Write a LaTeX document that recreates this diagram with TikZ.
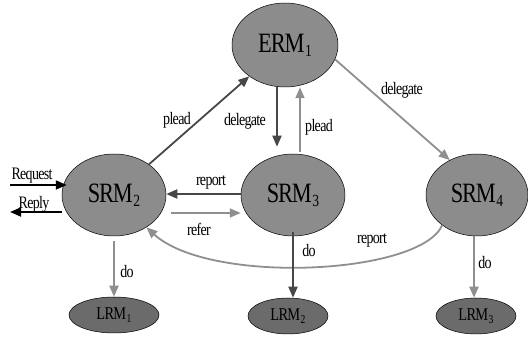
\documentclass[tikz,border=0pt]{standalone}
\usepackage{fontspec}
\setmainfont{Liberation Serif}[FakeStretch=0.8,LetterSpace=-4]
\usetikzlibrary{arrows.meta,shapes.geometric}
\definecolor{nodefill}{HTML}{8C8C8C}
\definecolor{leaffill}{HTML}{6B6B6B}
\definecolor{darkarrow}{HTML}{474747}
\definecolor{lightarrow}{HTML}{8F8F8F}
\newcommand{\bigsub}[1]{\kern0.5pt\raisebox{-4pt}{\fontsize{17}{17}\selectfont#1}}
\newcommand{\smallsub}[1]{\kern0.5pt\raisebox{-2.5pt}{\fontsize{12}{12}\selectfont#1}}
\begin{document}
\begin{tikzpicture}[x=1pt,y=-1pt,
  manager/.style={ellipse,draw=black,line width=0.5pt,fill=nodefill,
    inner sep=0pt,font=\fontsize{28}{28}\selectfont},
  leaf/.style={ellipse,draw=black,line width=0.5pt,fill=leaffill,
    inner sep=0pt,font=\fontsize{18}{18}\selectfont},
  lbl/.style={inner sep=0pt,font=\fontsize{17.5}{17.5}\selectfont},
  flow/.style={line width=1.8pt,-{Triangle[length=11pt,width=9pt]}},
  darkflow/.style={flow,draw=darkarrow,color=darkarrow},
  lightflow/.style={flow,draw=lightarrow,color=lightarrow},
  ioflow/.style={flow,draw=black,color=black}]
\useasboundingbox (0,0) rectangle (528,339);

% resource managers
\node[manager,minimum width=106pt,minimum height=84pt] (erm1) at (285,45) {ERM\bigsub{1}};
\node[manager,minimum width=104pt,minimum height=82pt] (srm2) at (114,195) {SRM\bigsub{2}};
\node[manager,minimum width=104pt,minimum height=82pt] (srm3) at (293,195) {SRM\bigsub{3}};
\node[manager,minimum width=102pt,minimum height=82pt] (srm4) at (477,195) {SRM\bigsub{4}};
\node[leaf,minimum width=90pt,minimum height=36pt] (lrm1) at (114,315) {LRM\smallsub{1}};
\node[leaf,minimum width=80pt,minimum height=36pt] (lrm2) at (288,316) {LRM\smallsub{2}};
\node[leaf,minimum width=80pt,minimum height=36pt] (lrm3) at (476,316) {LRM\smallsub{3}};

% external request / reply
\coordinate (reqin) at (10,185);
\coordinate (repout) at (10,212);
\draw[ioflow] (reqin) -- ([xshift=5pt]reqin -| srm2.west);
\draw[ioflow] (repout -| srm2.west) -- (repout);
\node[lbl] (lreq) at (32,176) {Request};
\node[lbl] (lrep) at (34,204) {Reply};

% plead / delegate between levels
\draw[darkflow] (srm2) -- (erm1);
\draw[darkflow] ([xshift=-8pt]erm1.south) -- ([xshift=-16pt,yshift=7pt]srm3.north);
\draw[lightflow] ([xshift=7pt,yshift=2pt]srm3.north) -- ([xshift=15pt]erm1.south);
\draw[lightflow] (erm1.-16) -- (srm4.128);
\node[lbl] (lplead1) at (177,120) {plead};
\node[lbl] (ldel1) at (245,121) {delegate};
\node[lbl] (lplead2) at (319,127) {plead};
\node[lbl] (ldel2) at (402,90) {delegate};

% report / refer between peers
\draw[darkflow] ([yshift=1pt]srm3.west) -- ([yshift=1pt]srm2.east);
\draw[lightflow] ([xshift=5pt,yshift=-18pt]srm2.east) -- ([yshift=-18pt]srm3.west);
\draw[lightflow] (srm4.-139) .. controls (420,275) and (210,285) .. (srm2.-45);
\node[lbl] (lrep1) at (211,182) {report};
\node[lbl] (lrefer) at (199,229) {refer};
\node[lbl] (lrep2) at (372,240) {report};

% local work
\draw[lightflow] ([yshift=-5pt]srm2.south) -- (lrm1.north);
\draw[darkflow] ([yshift=4pt]srm3.south) -- (srm3.south |- lrm2.north);
\draw[lightflow] ([xshift=-3pt]srm4.south) -- ([xshift=-3pt]srm4.south |- lrm3.north);
\node[lbl] (ldo1) at (127,272) {do};
\node[lbl] (ldo2) at (309,251) {do};
\node[lbl] (ldo3) at (485,263) {do};
\end{tikzpicture}
\end{document}
